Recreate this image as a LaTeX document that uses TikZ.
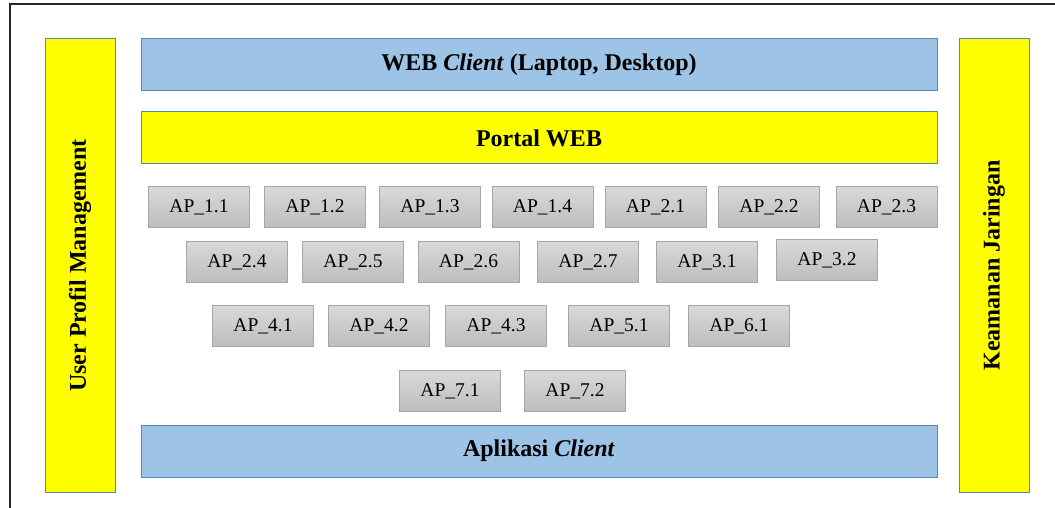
\documentclass[tikz,border=0pt]{standalone}
\usepackage{fontspec}
\setmainfont{Liberation Serif}

\definecolor{webblue}{HTML}{9DC3E6}
\definecolor{edgeblue}{HTML}{5B86B5}
\definecolor{layeryellow}{HTML}{FFFF00}
\definecolor{aptop}{HTML}{D9D9D9}
\definecolor{apbottom}{HTML}{BDBDBD}
\definecolor{apedge}{HTML}{A6A6A6}

\tikzset{
  layer/.style={draw=edgeblue, line width=1pt, minimum width=796pt, minimum height=52pt,
    inner sep=0pt, font=\fontsize{24}{28}\selectfont\bfseries},
  bluelayer/.style={layer, fill=webblue},
  yellowlayer/.style={layer, fill=layeryellow},
  sidebar/.style={draw=edgeblue, fill=layeryellow, line width=1pt, rotate=90,
    minimum width=453pt, minimum height=70pt, inner sep=0pt,
    font=\fontsize{24}{28}\selectfont\bfseries},
  apbox/.style={draw=apedge, top color=aptop, bottom color=apbottom,
    minimum width=101pt, minimum height=41pt, inner sep=0pt,
    font=\fontsize{19.5}{22}\selectfont},
}

\begin{document}
\begin{tikzpicture}[x=1pt, y=-1pt]
    \useasboundingbox (0,0) rectangle (1055,508);
    \draw[line width=1.5pt, black!85] (1055,4) -- (10,4) -- (10,508);

    % side bars
    \node[sidebar] (profil) at (80,265.5) {User Profil Management};
    \node[sidebar] (aman) at (994,265.5) {Keamanan Jaringan};

    % layers
    \node[bluelayer] (web) at (539,65) {WEB \textit{Client} (Laptop, Desktop)};
    \node[yellowlayer] (portal) at (539,138) {Portal WEB};
    \node[bluelayer] (aplikasi) at (539,451) {Aplikasi \textit{Client}};

    % aplikasi
    \node[apbox] (ap11) at (199,207) {AP\_1.1};
    \node[apbox] (ap12) at (315,207) {AP\_1.2};
    \node[apbox] (ap13) at (430,207) {AP\_1.3};
    \node[apbox] (ap14) at (542.5,207) {AP\_1.4};
    \node[apbox] (ap21) at (655.5,207) {AP\_2.1};
    \node[apbox] (ap22) at (769,207) {AP\_2.2};
    \node[apbox] (ap23) at (886.5,207) {AP\_2.3};

    \node[apbox] (ap24) at (237,262) {AP\_2.4};
    \node[apbox] (ap25) at (353,262) {AP\_2.5};
    \node[apbox] (ap26) at (468.5,262) {AP\_2.6};
    \node[apbox] (ap27) at (588,262) {AP\_2.7};
    \node[apbox] (ap31) at (707,262) {AP\_3.1};
    \node[apbox] (ap32) at (827,260) {AP\_3.2};

    \node[apbox] (ap41) at (263,326) {AP\_4.1};
    \node[apbox] (ap42) at (379,326) {AP\_4.2};
    \node[apbox] (ap43) at (496,326) {AP\_4.3};
    \node[apbox] (ap51) at (619,326) {AP\_5.1};
    \node[apbox] (ap61) at (739,326) {AP\_6.1};

    \node[apbox] (ap71) at (450,391) {AP\_7.1};
    \node[apbox] (ap72) at (575,391) {AP\_7.2};
\end{tikzpicture}
\end{document}
